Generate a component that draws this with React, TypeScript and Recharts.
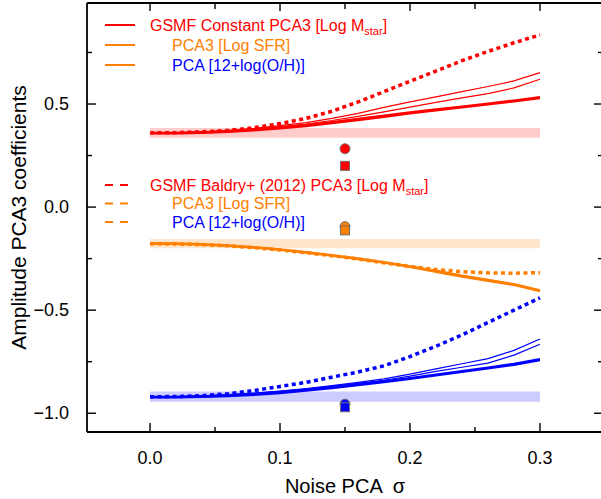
import React from "react"
import {
  ComposedChart,
  Line,
  Scatter,
  XAxis,
  YAxis,
  ReferenceArea,
  Legend,
} from "recharts"

// noise sigma sampled along the x axis
const sigma = [0, 0.02, 0.04, 0.06, 0.08, 0.1, 0.12, 0.14, 0.16, 0.18, 0.2, 0.22, 0.24, 0.26, 0.28, 0.3]

// GSMF constant, PCA3 [Log Mstar]
const redThickA = [0.36, 0.36, 0.363, 0.368, 0.376, 0.386, 0.398, 0.412, 0.428, 0.444, 0.46, 0.474, 0.488, 0.502, 0.517, 0.533]
const redThickB = [0.357, 0.358, 0.36, 0.365, 0.372, 0.382, 0.393, 0.407, 0.422, 0.438, 0.454, 0.469, 0.483, 0.498, 0.513, 0.528]
const redThinA = [0.36, 0.361, 0.365, 0.372, 0.382, 0.395, 0.41, 0.43, 0.455, 0.484, 0.51, 0.535, 0.56, 0.585, 0.612, 0.652]
const redThinB = [0.36, 0.36, 0.364, 0.37, 0.379, 0.39, 0.403, 0.42, 0.44, 0.462, 0.485, 0.508, 0.53, 0.55, 0.578, 0.62]
// GSMF Baldry+ (2012)
const redDot = [0.36, 0.361, 0.365, 0.372, 0.385, 0.405, 0.43, 0.465, 0.51, 0.56, 0.61, 0.66, 0.71, 0.755, 0.797, 0.835]

// PCA3 [Log SFR]
const orangeThickA = [-0.178, -0.179, -0.182, -0.188, -0.197, -0.208, -0.221, -0.236, -0.252, -0.27, -0.29, -0.314, -0.338, -0.358, -0.378, -0.408]
const orangeThickB = [-0.175, -0.176, -0.179, -0.185, -0.194, -0.205, -0.218, -0.233, -0.249, -0.267, -0.287, -0.31, -0.334, -0.354, -0.374, -0.404]
const orangeThinA = [-0.178, -0.179, -0.182, -0.188, -0.197, -0.208, -0.221, -0.236, -0.252, -0.27, -0.286, -0.306, -0.33, -0.35, -0.372, -0.404]
const orangeThinB = [-0.178, -0.179, -0.182, -0.188, -0.197, -0.208, -0.221, -0.236, -0.252, -0.27, -0.288, -0.31, -0.335, -0.353, -0.375, -0.405]
const orangeDot = [-0.178, -0.179, -0.182, -0.188, -0.197, -0.208, -0.221, -0.236, -0.252, -0.27, -0.288, -0.303, -0.313, -0.319, -0.321, -0.318]

// PCA [12+log(O/H)]
const blueThickA = [-0.92, -0.92, -0.918, -0.914, -0.907, -0.898, -0.887, -0.874, -0.86, -0.845, -0.829, -0.812, -0.795, -0.778, -0.76, -0.737]
const blueThickB = [-0.923, -0.923, -0.921, -0.917, -0.911, -0.902, -0.891, -0.878, -0.864, -0.849, -0.833, -0.816, -0.8, -0.783, -0.765, -0.743]
const blueThinA = [-0.92, -0.919, -0.916, -0.91, -0.902, -0.892, -0.88, -0.866, -0.85, -0.833, -0.81, -0.785, -0.76, -0.735, -0.695, -0.64]
const blueThinB = [-0.92, -0.919, -0.916, -0.911, -0.903, -0.894, -0.883, -0.87, -0.855, -0.84, -0.82, -0.797, -0.777, -0.757, -0.718, -0.665]
const blueDot = [-0.92, -0.919, -0.915, -0.905, -0.89, -0.87, -0.85, -0.825, -0.8, -0.77, -0.725, -0.675, -0.62, -0.56, -0.5, -0.44]

// shaded reference bands [low, high]
const redBand = [0.336, 0.384]
const orangeBand = [-0.2, -0.155]
const blueBand = [-0.944, -0.895]

// single points at sigma = 0.15
const markerSigma = 0.15
const redCircle = [0.283]
const redSquare = [0.2]
const orangeCircle = [-0.095]
const orangeSquare = [-0.113]
const blueCircle = [-0.956]
const blueSquare = [-0.971]

const xTicks = [0, 0.05, 0.1, 0.15, 0.2, 0.25, 0.3]
const yTicks = [-1, -0.75, -0.5, -0.25, 0, 0.25, 0.5, 0.75]

const RED = "#ff0000"
const ORANGE = "#ff8000"
const BLUE = "#0000ff"
const FONT = "'Liberation Sans', Arial, sans-serif"

const rows = sigma.map((x, i) => ({
  x,
  redThickA: redThickA[i],
  redThickB: redThickB[i],
  redThinA: redThinA[i],
  redThinB: redThinB[i],
  redDot: redDot[i],
  orangeThickA: orangeThickA[i],
  orangeThickB: orangeThickB[i],
  orangeThinA: orangeThinA[i],
  orangeThinB: orangeThinB[i],
  orangeDot: orangeDot[i],
  blueThickA: blueThickA[i],
  blueThickB: blueThickB[i],
  blueThinA: blueThinA[i],
  blueThinB: blueThinB[i],
  blueDot: blueDot[i],
}))

const pts = (vals: number[]) => vals.map((y) => ({ x: markerSigma, y }))

const fmt = (v: number) => (v < 0 ? "\u2212" : "") + Math.abs(v).toFixed(1)
const isMajorY = (v: number) => Math.abs(v * 2 - Math.round(v * 2)) < 1e-6
const isMajorX = (v: number) => Math.abs(v * 10 - Math.round(v * 10)) < 1e-6

const LeftTick = (props: any) => {
  const { x, y, payload } = props
  const major = isMajorY(payload.value)
  return (
    <g>
      <line x1={x} x2={x + (major ? 9 : 5)} y1={y} y2={y} stroke="#000" strokeWidth={1.4} />
      {major && (
        <text x={x - 18} y={y + 6} textAnchor="end" fontSize={18} fontFamily={FONT} fill="#000">
          {fmt(payload.value)}
        </text>
      )}
    </g>
  )
}

const RightTick = (props: any) => {
  const { x, y, payload } = props
  const major = isMajorY(payload.value)
  return <line x1={x} x2={x - (major ? 9 : 5)} y1={y} y2={y} stroke="#000" strokeWidth={1.4} />
}

const BottomTick = (props: any) => {
  const { x, y, payload } = props
  const major = isMajorX(payload.value)
  return (
    <g>
      <line x1={x} x2={x} y1={y} y2={y - (major ? 9 : 5)} stroke="#000" strokeWidth={1.4} />
      {major && (
        <text x={x} y={y + 32} textAnchor="middle" fontSize={18} fontFamily={FONT} fill="#000">
          {payload.value.toFixed(1)}
        </text>
      )}
    </g>
  )
}

const TopTick = (props: any) => {
  const { x, y, payload } = props
  const major = isMajorX(payload.value)
  return <line x1={x} x2={x} y1={y} y2={y + (major ? 8 : 6)} stroke="#000" strokeWidth={1.4} />
}

const circleShape = (fill: string) => (props: any) =>
  <circle cx={props.cx} cy={props.cy} r={5} fill={fill} stroke="#707070" strokeWidth={1} />

const squareShape = (fill: string) => (props: any) =>
  <rect x={props.cx - 4.5} y={props.cy - 4.5} width={9} height={9} fill={fill} stroke="#707070" strokeWidth={1} />

const legendRows = [
  { y: 25, tx: 150, color: RED, line: RED, dashed: false, text: "GSMF Constant PCA3 [Log M", sub: "star", tail: "]" },
  { y: 45, tx: 172, color: ORANGE, line: ORANGE, dashed: false, text: "PCA3 [Log SFR]" },
  { y: 65, tx: 172, color: BLUE, line: ORANGE, dashed: false, text: "PCA [12+log(O/H)]" },
  { y: 185, tx: 150, color: RED, line: RED, dashed: true, text: "GSMF Baldry+ (2012) PCA3 [Log M", sub: "star", tail: "]" },
  { y: 203.5, tx: 172, color: ORANGE, line: ORANGE, dashed: true, text: "PCA3 [Log SFR]" },
  { y: 222, tx: 172, color: BLUE, line: ORANGE, dashed: true, text: "PCA [12+log(O/H)]" },
]

const LegendBox = () => (
  <svg width={601} height={499} style={{ position: "absolute", left: 0, top: 0, pointerEvents: "none" }}>
    {legendRows.map((r) => (
      <g key={r.y}>
        {r.dashed ? (
          <line x1={105} x2={128} y1={r.y} y2={r.y} stroke={r.line} strokeWidth={2} strokeDasharray="8 7" />
        ) : (
          <line x1={105} x2={135} y1={r.y} y2={r.y} stroke={r.line} strokeWidth={2} />
        )}
        <text x={r.tx} y={r.y + 5.5} fontSize={16} fontFamily={FONT} fill={r.color}>
          {r.text}
          {r.sub && (
            <tspan dy={4} fontSize={11}>
              {r.sub}
            </tspan>
          )}
          {r.tail && <tspan dy={-4}>{r.tail}</tspan>}
        </text>
      </g>
    ))}
  </svg>
)

const lineProps = { type: "linear" as const, dot: false, isAnimationActive: false, activeDot: false }

export default function App() {
  return (
    <div style={{ position: "absolute", left: 0, top: 0, width: 601, height: 499, overflow: "hidden", background: "#fff" }}>
      <ComposedChart width={610} height={499} data={rows} margin={{ top: 2, right: 6, bottom: 66, left: 86 }}>
        <XAxis
          dataKey="x"
          type="number"
          domain={[-0.0485, 0.3485]}
          allowDataOverflow
          ticks={xTicks}
          height={1}
          tickSize={0}
          tickMargin={0}
          tickLine={false}
          tick={<BottomTick />}
          axisLine={{ stroke: "#000", strokeWidth: 1.8 }}
          interval={0}
        />
        <XAxis
          xAxisId="top"
          orientation="top"
          dataKey="x"
          type="number"
          domain={[-0.0485, 0.3485]}
          allowDataOverflow
          ticks={xTicks}
          height={1}
          tickSize={0}
          tickMargin={0}
          tickLine={false}
          tick={<TopTick />}
          axisLine={{ stroke: "#000", strokeWidth: 1.8 }}
          interval={0}
        />
        <YAxis
          type="number"
          domain={[-1.091, 0.99]}
          allowDataOverflow
          ticks={yTicks}
          width={1}
          tickSize={0}
          tickMargin={0}
          tickLine={false}
          tick={<LeftTick />}
          axisLine={{ stroke: "#000", strokeWidth: 1.8 }}
          interval={0}
          label={{
            value: "Amplitude PCA3 coefficients",
            angle: -90,
            position: "insideLeft",
            dx: -72,
            dy: 0,
            style: { textAnchor: "middle", fontSize: 21, fontFamily: FONT, fill: "#000" },
          }}
        />
        <YAxis
          yAxisId="right"
          orientation="right"
          type="number"
          domain={[-1.091, 0.99]}
          allowDataOverflow
          ticks={yTicks}
          width={1}
          tickSize={0}
          tickMargin={0}
          tickLine={false}
          tick={<RightTick />}
          axisLine={{ stroke: "#000", strokeWidth: 1.8 }}
          interval={0}
        />

        <ReferenceArea x1={0} x2={0.3} y1={redBand[0]} y2={redBand[1]} fill="#ffcccc" fillOpacity={1} stroke="none" />
        <ReferenceArea x1={0} x2={0.3} y1={orangeBand[0]} y2={orangeBand[1]} fill="#ffe5cc" fillOpacity={1} stroke="none" />
        <ReferenceArea x1={0} x2={0.3} y1={blueBand[0]} y2={blueBand[1]} fill="#ccccff" fillOpacity={1} stroke="none" />

        <Line {...lineProps} dataKey="redThinA" stroke={RED} strokeWidth={1.2} />
        <Line {...lineProps} dataKey="redThinB" stroke={RED} strokeWidth={1.2} />
        <Line {...lineProps} dataKey="redThickA" stroke={RED} strokeWidth={2.2} />
        <Line {...lineProps} dataKey="redThickB" stroke={RED} strokeWidth={2.2} />
        <Line {...lineProps} dataKey="redDot" stroke={RED} strokeWidth={3.5} strokeDasharray="4 3.5" />

        <Line {...lineProps} dataKey="orangeThinA" stroke={ORANGE} strokeWidth={1.2} />
        <Line {...lineProps} dataKey="orangeThinB" stroke={ORANGE} strokeWidth={1.2} />
        <Line {...lineProps} dataKey="orangeThickA" stroke={ORANGE} strokeWidth={2.2} />
        <Line {...lineProps} dataKey="orangeThickB" stroke={ORANGE} strokeWidth={2.2} />
        <Line {...lineProps} dataKey="orangeDot" stroke={ORANGE} strokeWidth={3.5} strokeDasharray="4 3.5" />

        <Line {...lineProps} dataKey="blueThinA" stroke={BLUE} strokeWidth={1.2} />
        <Line {...lineProps} dataKey="blueThinB" stroke={BLUE} strokeWidth={1.2} />
        <Line {...lineProps} dataKey="blueThickA" stroke={BLUE} strokeWidth={2.2} />
        <Line {...lineProps} dataKey="blueThickB" stroke={BLUE} strokeWidth={2.2} />
        <Line {...lineProps} dataKey="blueDot" stroke={BLUE} strokeWidth={3.5} strokeDasharray="4 3.5" />

        <Scatter data={pts(redCircle)} dataKey="y" shape={circleShape(RED)} isAnimationActive={false} />
        <Scatter data={pts(redSquare)} dataKey="y" shape={squareShape(RED)} isAnimationActive={false} />
        <Scatter data={pts(orangeCircle)} dataKey="y" shape={circleShape(ORANGE)} isAnimationActive={false} />
        <Scatter data={pts(orangeSquare)} dataKey="y" shape={squareShape(ORANGE)} isAnimationActive={false} />
        <Scatter data={pts(blueCircle)} dataKey="y" shape={circleShape(BLUE)} isAnimationActive={false} />
        <Scatter data={pts(blueSquare)} dataKey="y" shape={squareShape(BLUE)} isAnimationActive={false} />

        <Legend
          layout="vertical"
          align="center"
          verticalAlign="middle"
          wrapperStyle={{ left: 0, top: 0, width: 601, height: 499, pointerEvents: "none" }}
          content={() => <LegendBox />}
        />
      </ComposedChart>
      <div
        style={{
          position: "absolute",
          left: 0,
          top: 474,
          width: 690,
          textAlign: "center",
          fontSize: 20,
          fontFamily: FONT,
          whiteSpace: "pre",
          lineHeight: "24px",
        }}
      >
        Noise PCA  σ
      </div>
    </div>
  )
}
